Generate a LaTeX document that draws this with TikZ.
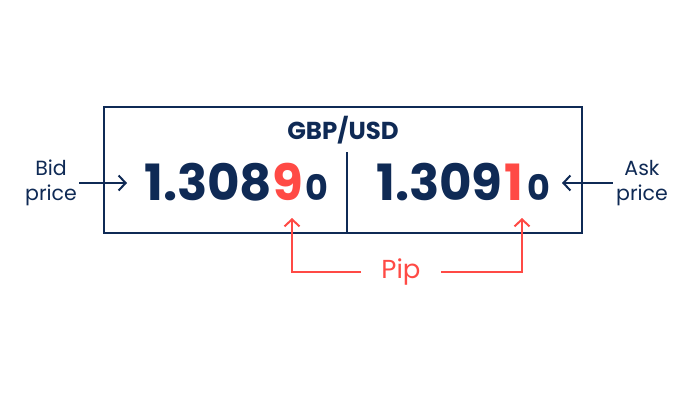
\documentclass[tikz,border=0pt]{standalone}
\usepackage{fontspec}
\setmainfont{Poppins}
\newfontfamily\popb{Poppins Bold}
\usetikzlibrary{arrows.meta}
\definecolor{navy}{HTML}{0F2A55}
\definecolor{pipred}{HTML}{FF4A45}
\tikzset{
  lbl/.style={font=\fontsize{20.5bp}{25bp}\selectfont, text=navy, align=center, inner sep=0pt},
  price/.style={font=\popb\fontsize{50bp}{60bp}\selectfont, text=navy, inner sep=0pt, anchor=base west},
  navyarrow/.style={draw=navy, line width=2bp, -{Straight Barb[length=7bp,width=15bp,line width=2bp]}},
  redarrow/.style={draw=pipred, line width=2bp, -{Straight Barb[length=7bp,width=15bp,line width=2bp]}},
}
\newcommand{\smallz}{\kern2bp{\fontsize{35bp}{38bp}\selectfont 0}}
\begin{document}
\begin{tikzpicture}[x=1bp,y=-1bp]
\useasboundingbox (0,0) rectangle (690,412);
\fill[white] (0,0) rectangle (690,412);
% box
\draw[navy, line width=1.2bp] (104,107) rectangle (582,233);
\coordinate (dtop) at (347,152);
\coordinate (dbot) at (347,233);
\draw[navy, line width=1.2bp] (dtop) -- (dbot);
\node[font=\popb\fontsize{24.5bp}{28bp}\selectfont, text=navy, inner sep=0pt, anchor=base] (title) at (343,139) {GBP/USD};
% prices
\node[price] (bid) at (144,200) {1.308\textcolor{pipred}{9}\smallz};
\node[price] (ask) at (376,200) {1.309\kern2bp\textcolor{pipred}{1}\kern2bp\smallz};
% labels
\node[lbl] (bidl) at (51,183) {Bid\\price};
\node[lbl] (askl) at (642,183) {Ask\\price};
\coordinate (bidtip) at (127,183);
\coordinate (asktip) at (562,183);
\draw[navyarrow] (bidl.east |- bidtip) ++(2,0) -- (bidtip);
\draw[navyarrow] (askl.west |- asktip) ++(-3,0) -- (asktip);
% pip
\node[font=\fontsize{26bp}{30bp}\selectfont, text=pipred, inner sep=0pt] (pip) at (401,272) {Pip};
\coordinate (p1) at (292,218);
\coordinate (p2) at (522,218);
\draw[redarrow] (361,272) -- (292,272) -- (p1);
\draw[redarrow] (441,272) -- (522,272) -- (p2);
\end{tikzpicture}
\end{document}
